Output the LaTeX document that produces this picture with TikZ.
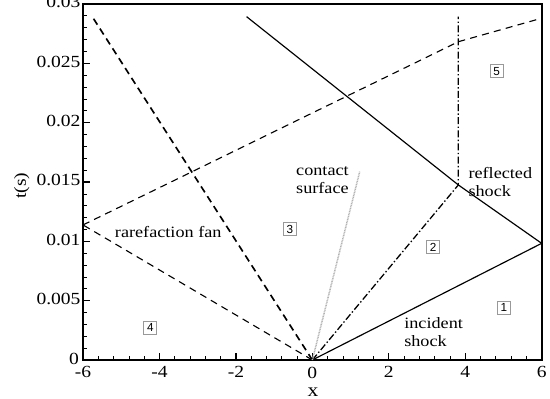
\documentclass[tikz,border=0pt]{standalone}
\usepackage{fontspec}
\setmainfont{Liberation Serif}[FakeStretch=1.15]
\newfontfamily\boxfont{Liberation Sans}
\usetikzlibrary{positioning}

\tikzset{
  frameline/.style={line width=1.6pt},
  shockline/.style={line width=1pt},
  slipline/.style={line width=1.1pt, dash pattern=on 6pt off 2pt on 1.2pt off 2pt},
  fanline/.style={line width=0.95pt, dash pattern=on 6pt off 4.5pt},
  fantail/.style={line width=1.4pt, dash pattern=on 6pt off 4pt},
  contactline/.style={line width=1.3pt, gray!60, dash pattern=on 0.8pt off 0.6pt},
  regionbox/.style={draw=gray!80, line width=0.5pt, minimum size=0.39cm, inner sep=0pt, font=\boxfont\fontsize{10}{11}\selectfont},
  wavelabel/.style={align=left, inner sep=0pt, font=\fontsize{13.5}{15.5}\selectfont},
  ticklabel/.style={inner sep=0pt, font=\fontsize{14.5}{16}\selectfont}
}

\begin{document}
\begin{tikzpicture}[x=1.1466cm, y=0.356cm]
\useasboundingbox (-8.172,-3.286) rectangle (6.218,30.336);

% frame and ticks
\draw[frameline] (-6,0) rectangle (6,30);
\foreach \x in {-5.6,-5.2,...,5.7} \draw[line width=0.6pt] (\x,0) -- ++(0,0.12cm);
\foreach \y in {1,2,...,29} \draw[line width=0.6pt] (-6,\y) -- ++(0.12cm,0);
\foreach \x [count=\i] in {-6,-4,-2,0,2,4,6} {
  \draw[line width=1.2pt] (\x,0) -- ++(0,0.21cm);
  \node[ticklabel, anchor=north] (xtick\i) at (\x,-0.55) {\x};
}
\foreach \y/\lab [count=\i] in {5/0.005,10/0.01,15/0.015,20/0.02,25/0.025,30/0.03} {
  \draw[line width=1.2pt] (-6,\y) -- ++(0.21cm,0);
  \node[ticklabel, anchor=east] (ytick\i) at (-6.06,\y+0.15) {\lab};
}
\draw[line width=1.2pt] (-6,0) -- ++(0.21cm,0);
\node[ticklabel, anchor=south east] (ytick0) at (-6.1,-0.45) {0};
\node[ticklabel, font=\fontsize{16}{18}\selectfont] (xlabel) at (0.02,-2.7) {x};
\node[ticklabel, rotate=90] (tlabel) at (-7.6,14.7) {t(s)};

% wave points
\coordinate (O) at (0,0);
\coordinate (wallhit) at (6,9.83);
\coordinate (J) at (3.82,14.75);
\coordinate (reftop) at (-1.72,28.93);
\coordinate (sliptop) at (3.82,28.93);
\coordinate (headwall) at (-6,11.38);
\coordinate (headslip) at (3.82,26.82);
\coordinate (headend) at (6,28.8);
\coordinate (tailtop) at (-5.77,28.99);
\coordinate (contacttop) at (1.24,15.87);

% waves
\draw[shockline] (O) -- (wallhit);
\draw[shockline] (wallhit) -- (J) -- (reftop);
\draw[slipline] (O) -- (J) -- (sliptop);
\draw[fanline] (O) -- (headwall);
\draw[fanline] (headwall) -- (headslip);
\draw[fanline] (headslip) -- (headend);
\draw[fantail] (O) -- (tailtop);
\draw[contactline] (O) -- (contacttop);

% labels
\node[wavelabel, align=center] (contact) at (0.265,15.15) {contact\\surface};
\node[wavelabel, anchor=west] (reflected) at (4.08,15.0) {reflected\\shock};
\node[wavelabel, anchor=west] (incident) at (2.40,2.36) {incident\\shock};
\node[wavelabel, anchor=west] (fan) at (-5.17,10.79) {rarefaction fan};

% regions
\node[regionbox] (r1) at (5.01,4.4) {1};
\node[regionbox] (r2) at (3.16,9.52) {2};
\node[regionbox] (r3) at (-0.586,11.04) {3};
\node[regionbox] (r4) at (-4.24,2.70) {4};
\node[regionbox] (r5) at (4.82,24.35) {5};
\end{tikzpicture}
\end{document}
